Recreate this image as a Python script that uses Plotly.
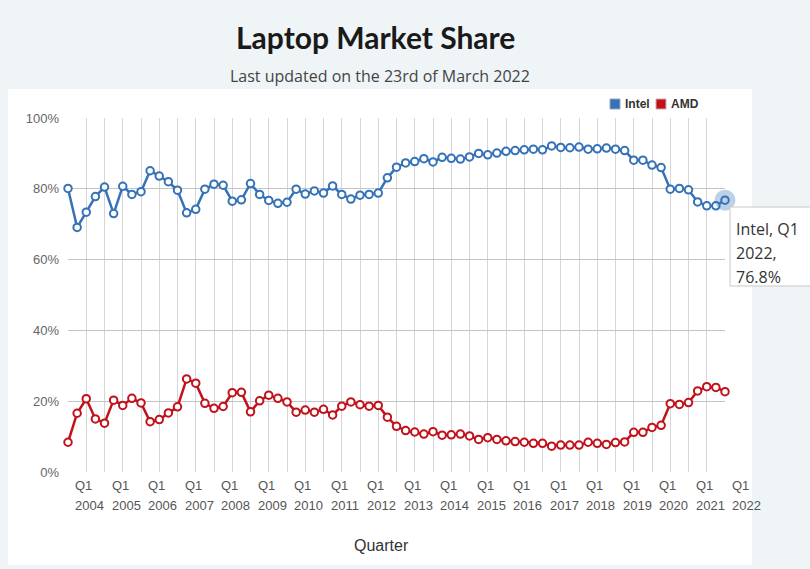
import plotly.graph_objects as go

# ---------------- data ----------------
years = list(range(2004, 2023))
quarters = [f"Q{q} {y}" for y in years for q in (1, 2, 3, 4)][:73]  # Q1 2004 .. Q1 2022

intel = [
    80.1, 69.1, 73.4, 77.8, 80.5, 73.0, 80.7, 78.4, 79.2, 85.1,
    83.6, 82.0, 79.6, 73.2, 74.2, 79.9, 81.3, 81.0, 76.5, 76.9,
    81.5, 78.4, 76.7, 75.9, 76.2, 79.9, 78.5, 79.4, 78.8, 80.8,
    78.4, 77.1, 78.2, 78.4, 78.8, 83.1, 86.1, 87.3, 87.7, 88.5,
    87.6, 88.9, 88.6, 88.4, 89.0, 90.0, 89.6, 90.1, 90.6, 90.8,
    91.0, 91.2, 91.0, 92.1, 91.7, 91.6, 91.8, 91.2, 91.3, 91.5,
    91.2, 90.8, 88.1, 88.1, 86.7, 86.0, 79.9, 80.1, 79.7, 76.3,
    75.2, 75.2, 76.8,
]
amd = [
    8.4, 16.6, 20.7, 15.0, 13.8, 20.3, 18.8, 20.8, 19.5, 14.2,
    14.8, 16.7, 18.4, 26.3, 25.1, 19.4, 18.0, 18.5, 22.4, 22.5,
    17.0, 20.1, 21.7, 20.8, 19.8, 16.9, 17.5, 16.9, 17.7, 16.1,
    18.6, 19.8, 19.0, 18.6, 18.8, 15.5, 12.9, 11.7, 11.3, 10.7,
    11.4, 10.4, 10.5, 10.7, 10.2, 9.2, 9.7, 9.2, 8.8, 8.6,
    8.4, 8.1, 8.1, 7.3, 7.6, 7.6, 7.6, 8.4, 8.1, 7.8,
    8.3, 8.5, 11.2, 11.2, 12.6, 13.2, 19.3, 19.1, 19.6, 22.9,
    24.1, 23.9, 22.7,
]
y_ticks = [0, 20, 40, 60, 80, 100]
y_tick_text = [f"{v}%" for v in y_ticks]
year_labels = [str(y) for y in years]

# ---------------- styling ----------------
INTEL_C = "#3572b8"
AMD_C = "#c1121c"
BG = "#eff4f7"
W, H = 810, 569
L, R, T, B = 68, 85, 118, 97
pw, ph = W - L - R, H - T - B


def px_x(p):
    return (p - L) / pw


def px_y(p):
    return (H - B - p) / ph


fig = go.Figure()

for name, vals, col in (("Intel", intel, INTEL_C), ("AMD", amd, AMD_C)):
    fig.add_trace(go.Scatter(
        x=quarters, y=vals, name=name, mode="lines+markers",
        line=dict(color=col, width=2.5),
        marker=dict(size=7.5, color="white", line=dict(color=col, width=2)),
        cliponaxis=False, showlegend=False))

# highlight halo on last Intel point
fig.add_trace(go.Scatter(
    x=[quarters[-1]], y=[intel[-1]], mode="markers",
    marker=dict(size=21, color="rgba(53,114,184,0.33)"),
    cliponaxis=False, showlegend=False, hoverinfo="skip"))

annotations = []
# title / subtitle
annotations.append(dict(text="<b>Laptop Market Share</b>", xref="paper", yref="paper",
                        x=px_x(375), y=px_y(37), xanchor="center", yanchor="middle",
                        showarrow=False, font=dict(family="Lato", size=30, color="#1a1a1a")))
annotations.append(dict(text="Last updated on the 23rd of March 2022", xref="paper", yref="paper",
                        x=px_x(380), y=px_y(76), xanchor="center", yanchor="middle",
                        showarrow=False, font=dict(family="Open Sans", size=16, color="#444")))
# x-axis labels (left aligned, Q1 over year)
for i, yl in enumerate(year_labels):
    q = quarters[i * 4]
    annotations.append(dict(text="Q1", x=q, xref="x", yref="paper", y=px_y(485),
                            xanchor="left", yanchor="middle", xshift=5, showarrow=False,
                            font=dict(family="Liberation Sans", size=13, color="#555")))
    annotations.append(dict(text=yl, x=q, xref="x", yref="paper", y=px_y(506),
                            xanchor="left", yanchor="middle", xshift=5, showarrow=False,
                            font=dict(family="Liberation Sans", size=13, color="#555")))
# axis title
annotations.append(dict(text="Quarter", xref="paper", yref="paper", x=px_x(381), y=px_y(545),
                        xanchor="center", yanchor="middle", showarrow=False,
                        font=dict(family="Liberation Sans", size=16, color="#333")))
# legend
annotations.append(dict(text="<b>Intel</b>", xref="paper", yref="paper", x=px_x(623), y=px_y(104),
                        xanchor="left", yanchor="middle", showarrow=False,
                        font=dict(family="Liberation Sans", size=12, color="#333")))
annotations.append(dict(text="<b>AMD</b>", xref="paper", yref="paper", x=px_x(669), y=px_y(104),
                        xanchor="left", yanchor="middle", showarrow=False,
                        font=dict(family="Liberation Sans", size=12, color="#333")))
# tooltip (three lines)
qq, yy = quarters[-1].split(" ")
tip_lines = [f"Intel, {qq}", f"{yy},", f"{intel[-1]}%"]
for line_txt, ly in zip(tip_lines, (229, 253, 277)):
    annotations.append(dict(text=line_txt, xref="paper", yref="paper",
                            x=px_x(734), y=px_y(ly), xanchor="left", yanchor="middle",
                            showarrow=False, font=dict(family="Open Sans", size=16, color="#333")))

shapes = [
    dict(type="rect", xref="paper", yref="paper", x0=px_x(8), x1=px_x(752), y0=px_y(565), y1=px_y(89),
         fillcolor="white", line=dict(width=0), layer="below"),
    dict(type="rect", xref="paper", yref="paper", x0=px_x(610), x1=px_x(620), y0=px_y(109), y1=px_y(99),
         fillcolor=INTEL_C, line=dict(color="#9ab", width=1)),
    dict(type="rect", xref="paper", yref="paper", x0=px_x(656), x1=px_x(666), y0=px_y(109), y1=px_y(99),
         fillcolor=AMD_C, line=dict(color="#caa", width=1)),
    dict(type="rect", xref="paper", yref="paper", x0=px_x(730), x1=px_x(815), y0=px_y(286), y1=px_y(207),
         fillcolor="white", line=dict(color="#c8c8c8", width=1), layer="above"),
]

fig.update_layout(
    width=W, height=H, margin=dict(l=L, r=R, t=T, b=B),
    paper_bgcolor=BG, plot_bgcolor="white",
    annotations=annotations, shapes=shapes, showlegend=False,
    xaxis=dict(type="category", categoryorder="array", categoryarray=quarters,
               range=[0, len(quarters) - 1], showticklabels=False,
               showgrid=True, gridcolor="#d6d6d6", gridwidth=1, ticks="", zeroline=False,
               showline=False, fixedrange=True),
    yaxis=dict(range=[0, 100], tickvals=y_ticks, ticktext=y_tick_text, showgrid=True,
               gridcolor="#c4c4c4", gridwidth=1, zeroline=False, showline=False, ticks="",
               tickfont=dict(family="Liberation Sans", size=13, color="#666"), ticklabelstandoff=8),
)

fig.write_html(
    "out.html",
    config={"displayModeBar": False},
    post_script="document.body.style.margin='0';document.body.style.background='%s';" % BG,
)
